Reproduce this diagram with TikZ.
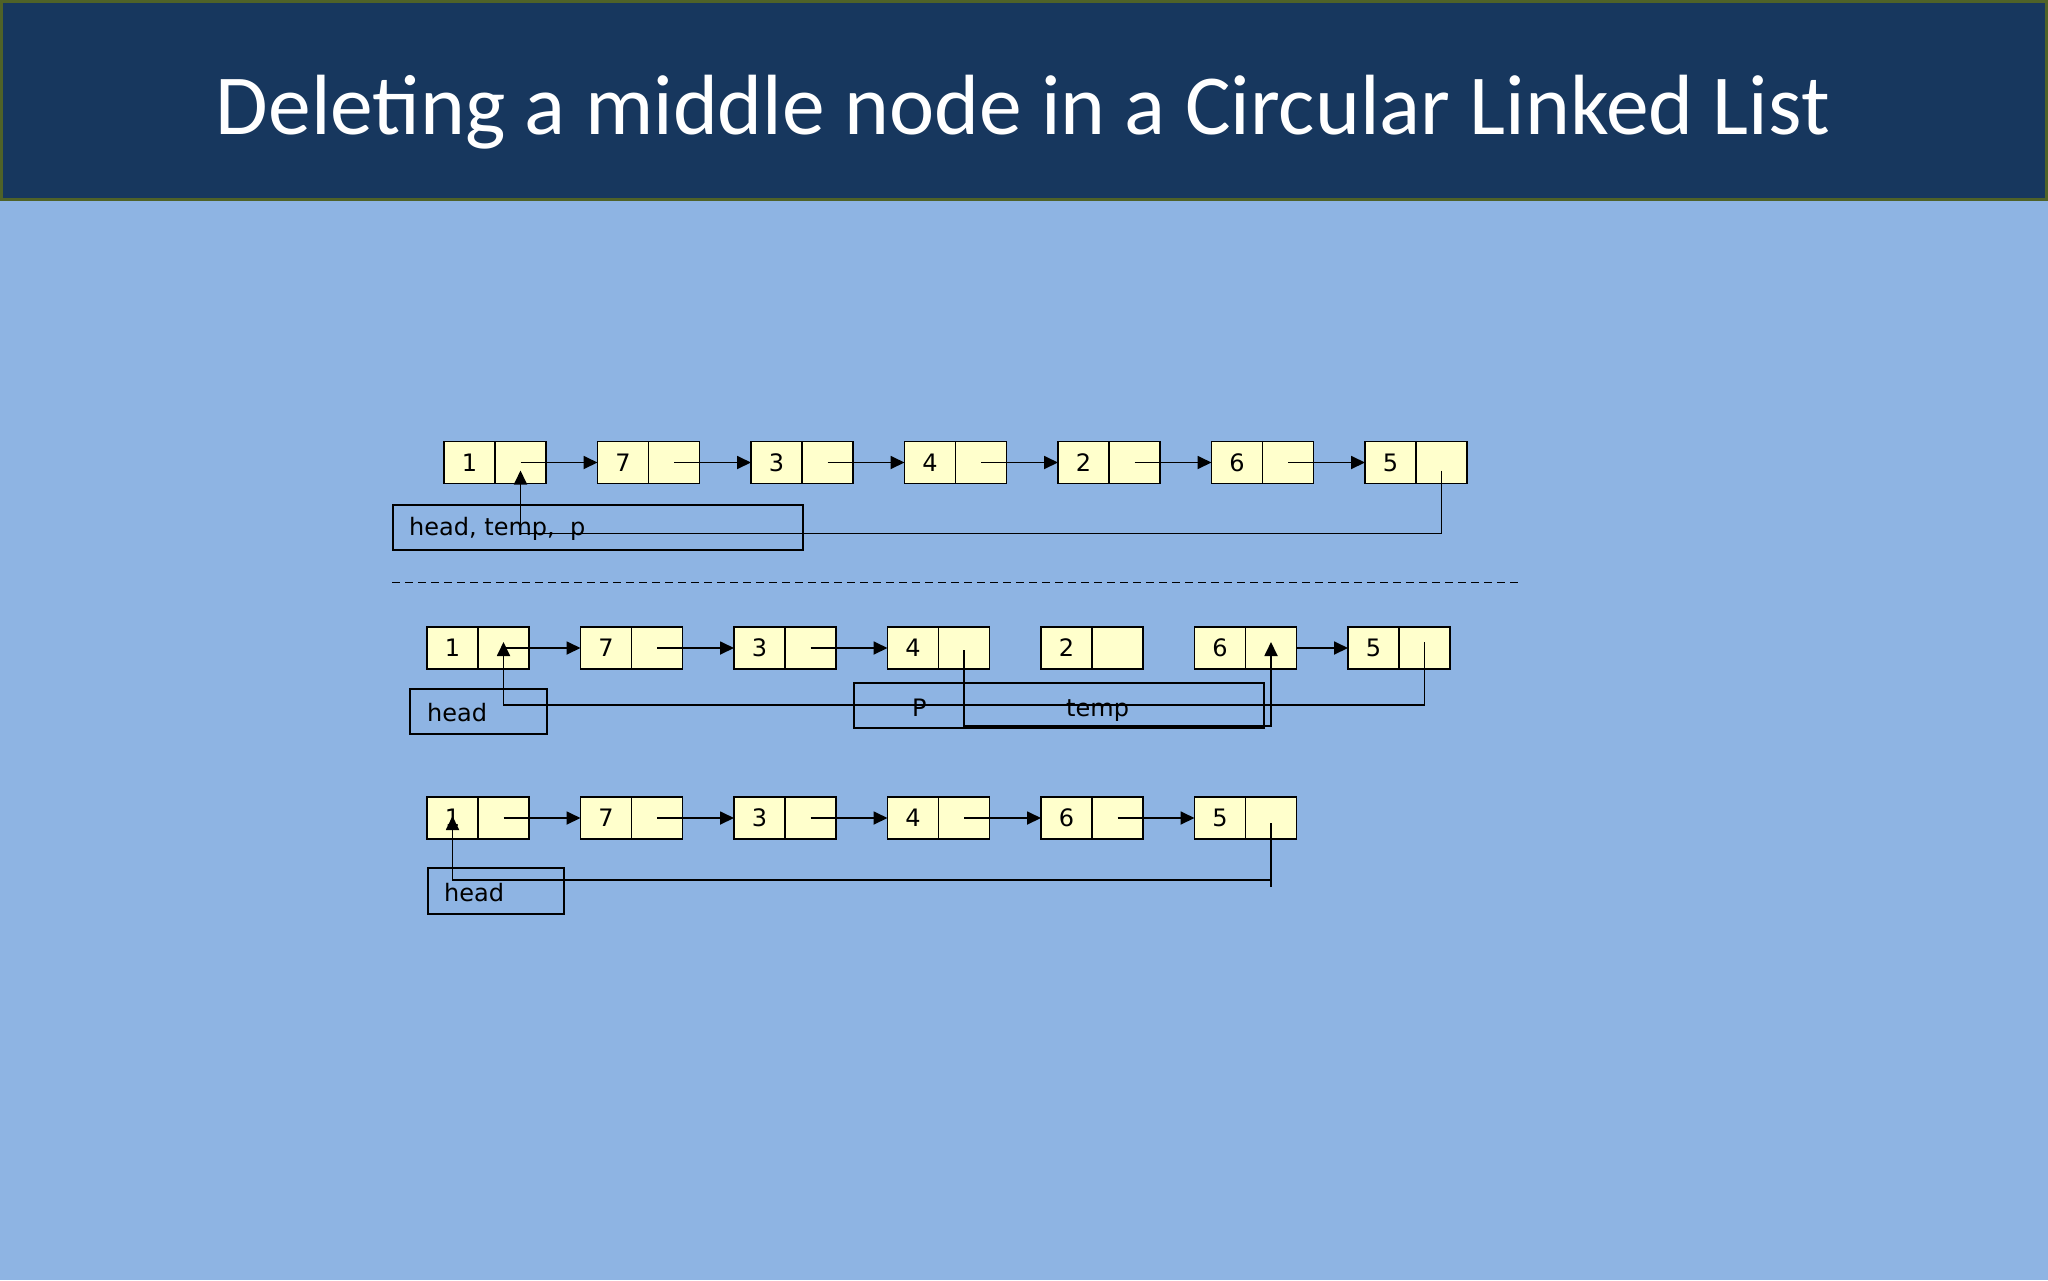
\documentclass[tikz,border=0pt]{standalone}
\usepackage{fontspec}
\setmainfont{DejaVu Sans}
\newfontfamily\titlefont{Carlito}
\usetikzlibrary{arrows.meta,calc}
\definecolor{bgblue}{HTML}{8EB4E3}
\definecolor{titleblue}{HTML}{17375E}
\definecolor{titleedge}{HTML}{4F6228}
\definecolor{cellyellow}{HTML}{FFFFCC}
\newcommand\llnode[4]{\node[cell] (#1d) at (#2+25.5,#3) {#4};\node[cell] (#1p) at (#2+76.5,#3) {};}
\begin{document}
\begin{tikzpicture}[x=1pt,y=-1pt,
  cell/.style={draw=black,fill=cellyellow,line width=1.8pt,minimum width=51pt,minimum height=42pt,inner sep=0pt,outer sep=0pt,font=\fontsize{24}{24}\selectfont},
  link/.style={line width=1.8pt},
  arr/.style={link,-{Triangle[length=14pt,width=13pt]}},
  lbox/.style={draw=black,line width=1.8pt,inner sep=0pt,anchor=north west},
  lbl/.style={font=\fontsize{24}{24}\selectfont,anchor=base west,inner sep=0pt}]
\useasboundingbox (0,0) rectangle (2048,1280);
\fill[bgblue] (0,0) rectangle (2048,1280);
\draw[fill=titleblue,draw=titleedge,line width=3pt] (1.5,1.5) rectangle (2046.5,199);
\node[font=\titlefont\fontsize{85.5}{85.5}\selectfont,text=white,anchor=base,inner sep=0pt] (title) at (1023,134) {Deleting a middle node in a Circular Linked List};

% row 1
\llnode{a1}{444}{462.5}{1}
\llnode{a2}{597.5}{462.5}{7}
\llnode{a3}{751}{462.5}{3}
\llnode{a4}{904.5}{462.5}{4}
\llnode{a5}{1058}{462.5}{2}
\llnode{a6}{1211.5}{462.5}{6}
\llnode{a7}{1365}{462.5}{5}
\node[lbox,minimum width=410pt,minimum height=45pt] (abox) at (392,504) {};
\node[lbl] (atext) at (409,535.5) {head, temp,\ \ p};
\foreach \i/\j in {1/2,2/3,3/4,4/5,5/6,6/7}
  \draw[arr] (a\i p.center) -- (a\j d.west);
\draw[arr] ($(a7p.center)+(0,8)$) -- ($(a7p.center)+(0,71)$) -| ($(a1p.center)+(0,8)$);

\draw[line width=1.4pt,dash pattern=on 8pt off 5pt] (392,582.5) -- (1519,582.5);

% row 2
\llnode{b1}{427}{648}{1}
\llnode{b2}{580.5}{648}{7}
\llnode{b3}{734}{648}{3}
\llnode{b4}{887.5}{648}{4}
\llnode{b5}{1041}{648}{2}
\llnode{b6}{1194.5}{648}{6}
\llnode{b7}{1348}{648}{5}
\node[lbox,minimum width=137pt,minimum height=45pt] (bhead) at (409,688) {};
\node[lbl] (bheadt) at (427,721) {head};
\node[lbox,minimum width=410pt,minimum height=45pt] (bpt) at (853,682) {};
\node[lbl] (bp) at (912,716) {P};
\node[lbl] (btemp) at (1066,716) {temp};
\draw[arr] (b1p.center) -- (b2d.west);
\draw[arr] (b2p.center) -- (b3d.west);
\draw[arr] (b3p.center) -- (b4d.west);
\draw[arr] ($(b4p.center)+(0,2)$) -- ($(b4p.center)+(0,78)$) -| ($(b6p.center)+(0,-6)$);
\draw[arr] (b6p.east) -- (b7d.west);
\draw[arr] ($(b7p.center)+(0,-6)$) -- ($(b7p.center)+(0,57)$) -| ($(b1p.center)+(0,-6)$);

% row 3
\llnode{c1}{427}{818}{1}
\llnode{c2}{580.5}{818}{7}
\llnode{c3}{734}{818}{3}
\llnode{c4}{887.5}{818}{4}
\llnode{c5}{1041}{818}{6}
\llnode{c6}{1194.5}{818}{5}
\node[lbox,minimum width=136pt,minimum height=46pt] (chead) at (427,867) {};
\node[lbl] (cheadt) at (444,901) {head};
\foreach \i/\j in {1/2,2/3,3/4,4/5,5/6}
  \draw[arr] (c\i p.center) -- (c\j d.west);
\draw[link] ($(c6p.center)+(0,5)$) -- ($(c6p.center)+(0,69)$);
\draw[arr] ($(c6p.center)+(0,62)$) -| ($(c1d.center)+(0,-2)$);
\end{tikzpicture}
\end{document}
